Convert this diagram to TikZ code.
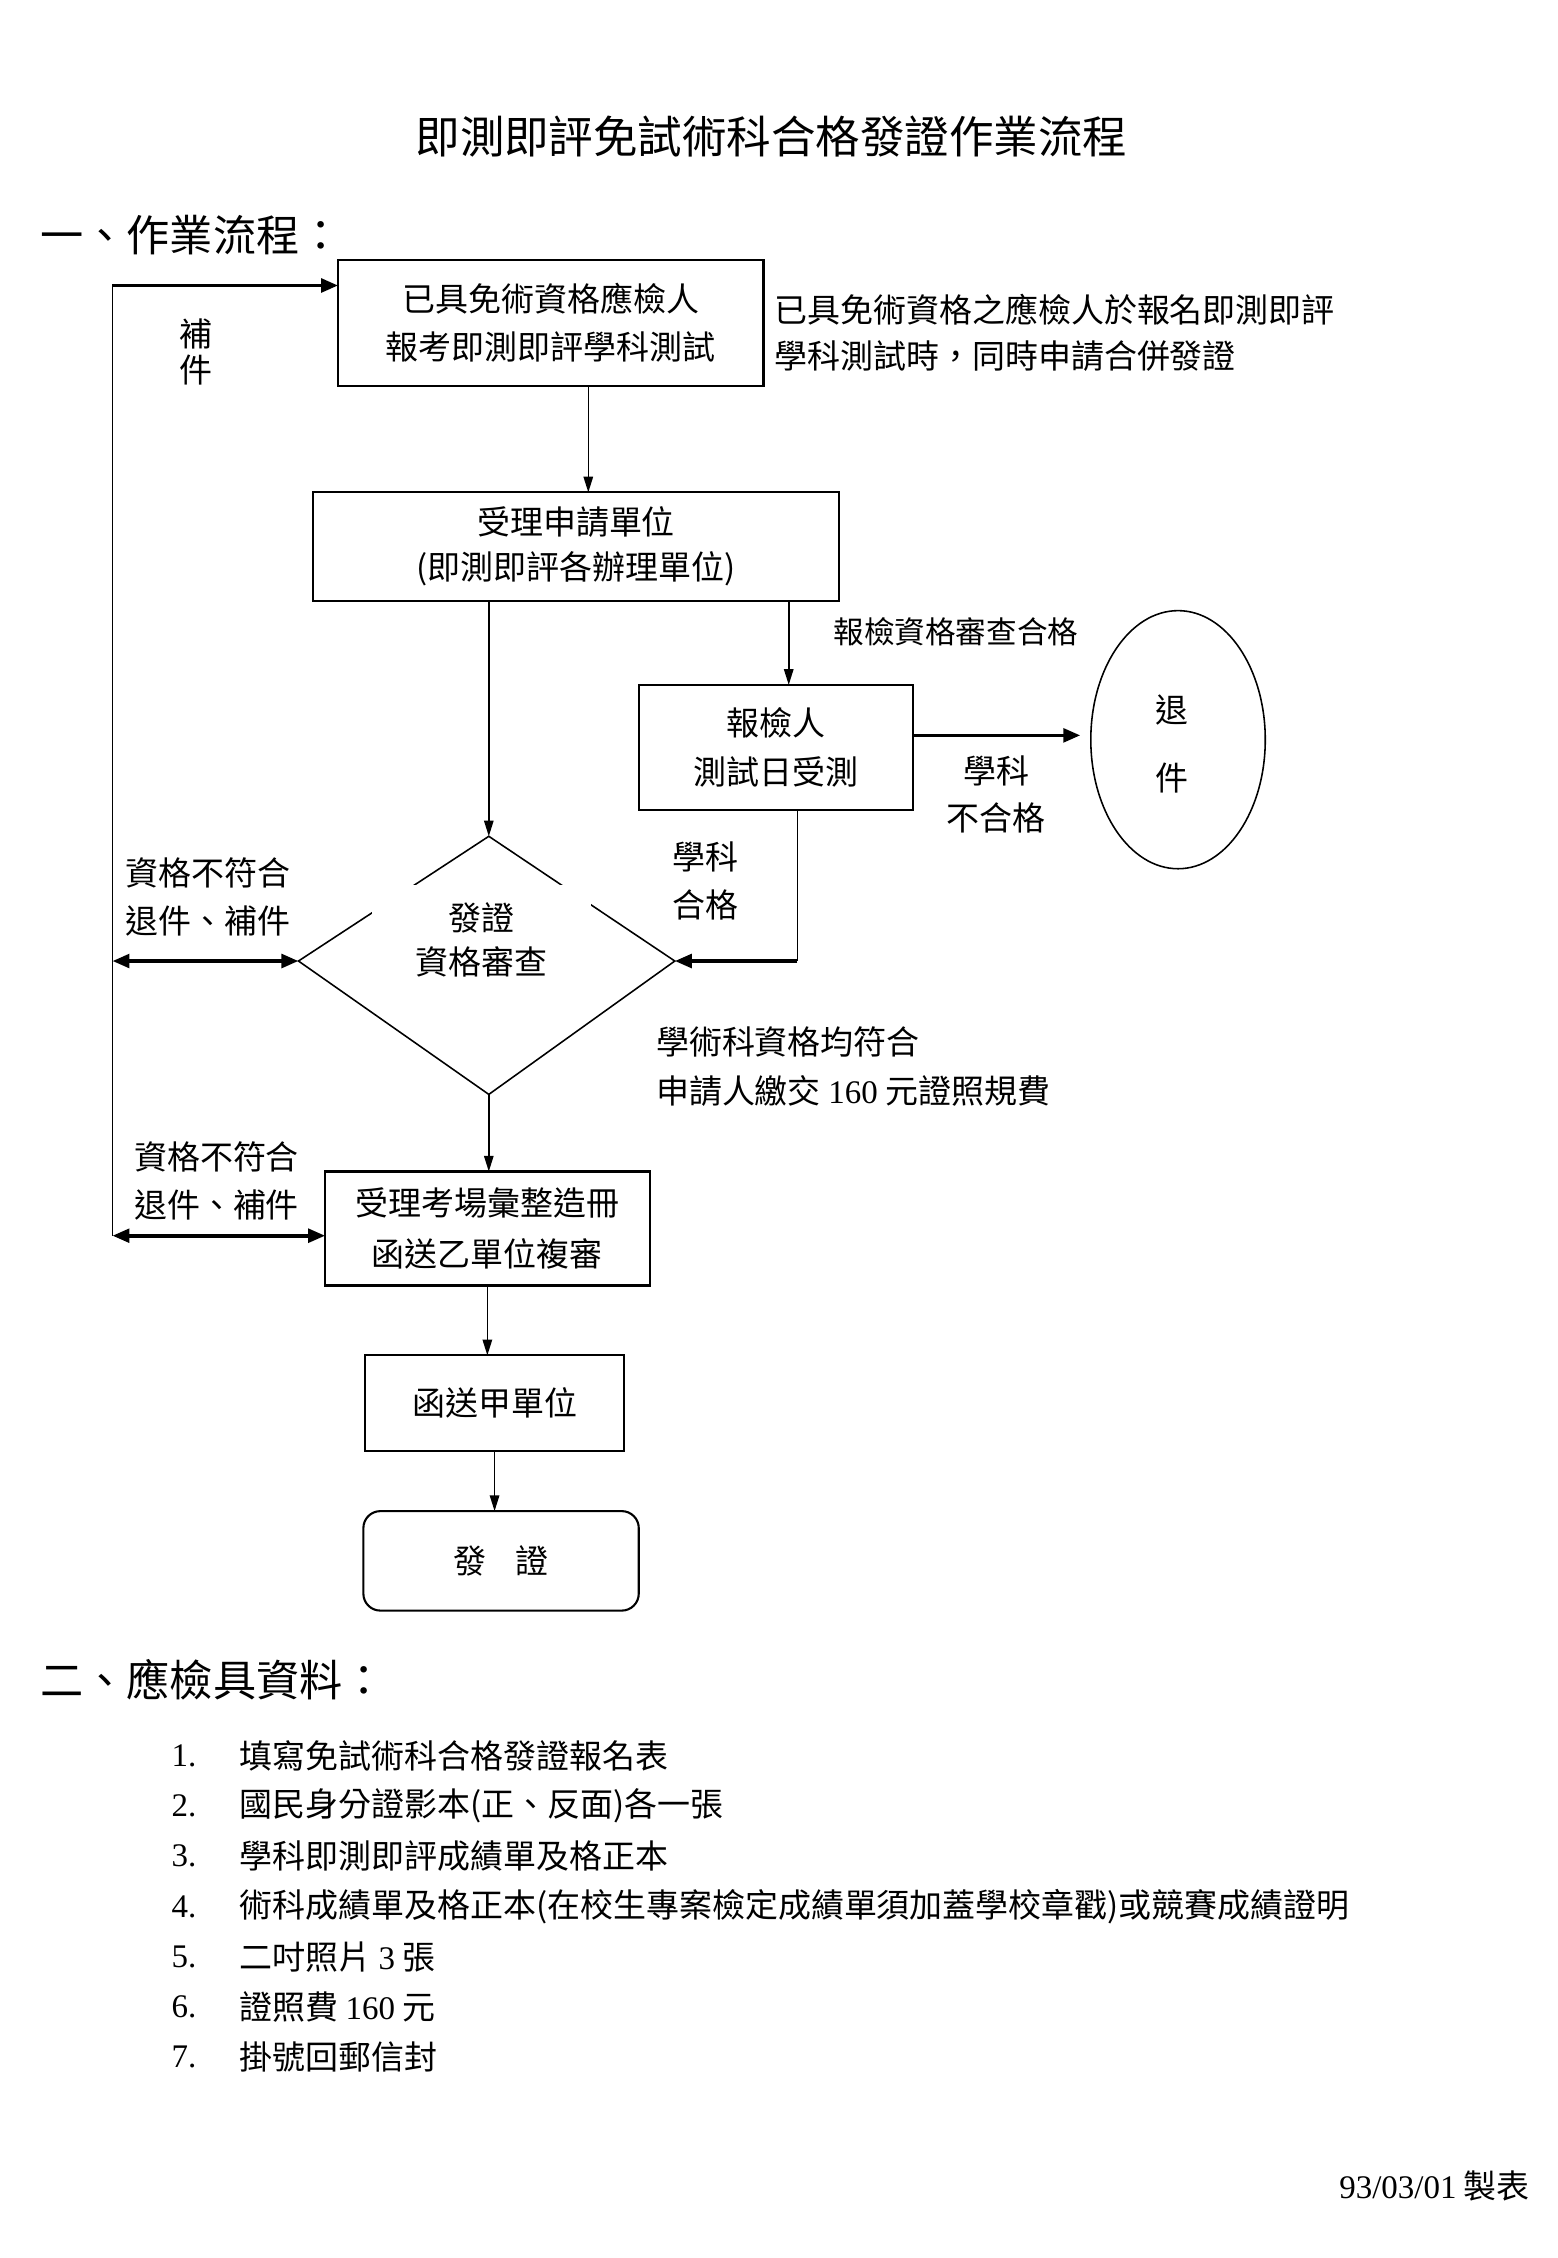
\documentclass[tikz,border=0pt]{standalone}
\usepackage{fontspec}
\setmainfont{Noto Sans CJK TC}
\newfontfamily\tnr{Liberation Serif}
\usetikzlibrary{arrows.meta,shapes.geometric,calc}
\begin{document}
\begin{tikzpicture}[x=0.551pt,y=-0.551pt,
  every node/.style={inner sep=0pt,outer sep=0pt},
  fs/.style={font=\fontsize{12.6}{#1}\selectfont},
  fs/.default={18.5pt},
  big/.style={font=\fontsize{16.5}{20}\selectfont},
  wh/.style 2 args={minimum width=#1*0.551pt,minimum height=#2*0.551pt},
  box/.style={draw,line width=0.8pt,align=center,fs},
  lbl/.style={align=left,anchor=west},
  thin/.style={line width=0.6pt},
  arr/.style={line width=0.6pt,-{Triangle[length=6pt,width=3.6pt]}},
  tarr/.style={line width=1.4pt,-{Triangle[length=6.5pt,width=5.2pt]}},
  darr/.style={line width=1.4pt,{Triangle[length=6.5pt,width=5.2pt]}-{Triangle[length=6.5pt,width=5.2pt]}}
]
\useasboundingbox (0,0) rectangle (1080,1566);

% titles
\node[font=\fontsize{17}{20}\selectfont] (title) at (535,95) {即測即評免試術科合格發證作業流程};
\node[big,anchor=west] (sec1) at (28,163) {一、作業流程：};

% boxes
\node[box,wh={295}{87},fs=18.2pt] (b1) at (382,224) {已具免術資格應檢人\\報考即測即評學科測試};
\node[lbl,fs=17.6pt] (note1) at (537,231) {已具免術資格之應檢人於報名即測即評\\學科測試時，同時申請合併發證};
\node[box,wh={365}{75},fs=17.1pt] (b2) at (399.5,379) {受理申請單位\\(即測即評各辦理單位)};
\node[box,wh={190}{87},fs=18.7pt] (b3) at (538,518.5) {報檢人\\測試日受測};
\node[draw,thin,ellipse,wh={121}{179}] (tui) at (817,513) {};
\node[align=center,fs=25.9pt] (tuit) at (813,516) {退\\件};

% diamond
\coordinate (dT) at (339,580);
\coordinate (dL) at (207,666.5);
\coordinate (dR) at (468,666.5);
\coordinate (dB) at (339,759);
\draw[thin] (dT) -- (dR) -- (dB) -- (dL) -- cycle;
\node[fill=white,align=center,fs=17pt,text width=152*0.551pt,minimum height=76*0.551pt] (dtext) at (334,652) {發證\\資格審查};

\node[box,wh={225}{79},fs=19.3pt] (b4) at (338,852) {受理考場彙整造冊\\函送乙單位複審};
\node[box,wh={180}{66}] (b5) at (343,973) {函送甲單位};
\node[box,wh={191}{69},rounded corners=6.5pt] (b6) at (347.5,1082.5) {發\hspace{0.9em}證};

% labels
\node[align=center,fs=13.8pt] (bujian) at (136,244) {補\\件};
\node[lbl,font=\fontsize{11.7}{14}\selectfont] (l1) at (578,438) {報檢資格審查合格};
\node[align=center,fs=18.2pt] (l2) at (691,551) {學科\\不合格};
\node[align=center,fs=18.7pt] (l3) at (489,611) {學科\\合格};
\node[lbl,fs=18.2pt] (l4) at (87,622) {資格不符合\\退件、補件};
\node[lbl,fs=18.7pt] (l5) at (455,740) {學術科資格均符合\\申請人繳交 {\tnr 160} 元證照規費};
\node[lbl,fs=18.7pt] (l6) at (93,819) {資格不符合\\退件、補件};

% connectors
\coordinate (L1) at (78,198);
\coordinate (L2) at (78,857);
\draw[thin] (L1) -- (L2);
\draw[tarr] (L1) -- (L1 -| b1.west);
\coordinate (s12) at (408,267.5);
\draw[arr] (s12) -- (s12 |- b2.north);
\draw[arr] (b2.south -| dT) -- (dT);
\coordinate (s23) at (547,416.5);
\draw[arr] (s23) -- (s23 |- b3.north);
\coordinate (s3e) at (633,510);
\draw[tarr,shorten >=4pt] (s3e) -- (s3e -| tui.west);
\coordinate (s3d) at (553,562);
\draw[thin] (s3d) -- (s3d |- dR);
\draw[tarr] (s3d |- dR) -- (dR);
\draw[darr] (L1 |- dL) -- (dL);
\draw[darr] (L2) -- (L2 -| b4.west);
\draw[arr] (dB) -- (dB |- b4.north);
\draw[arr] (b4.south) -- (b4.south |- b5.north);
\draw[arr] (b5.south) -- (b5.south |- b6.north);

% section 2
\node[big,anchor=west] (sec2) at (28,1165) {二、應檢具資料：};
\foreach \i/\t [count=\k] in {1/{填寫免試術科合格發證報名表},
  2/{國民身分證影本(正、反面)各一張},
  3/{學科即測即評成績單及格正本},
  4/{術科成績單及格正本(在校生專案檢定成績單須加蓋學校章戳)或競賽成績證明},
  5/{二吋照片 {\tnr 3} 張},
  6/{證照費 {\tnr 160} 元},
  7/{掛號回郵信封}}{
  \node[anchor=west,fs] (n\i) at (119,1183+34.8*\k) {\tnr \i.};
  \node[anchor=west,fs] (t\i) at (166,1183+34.8*\k) {\t};
}
\node[anchor=east,fs] (foot) at (1061,1516) {{\tnr 93/03/01} 製表};
\end{tikzpicture}
\end{document}
